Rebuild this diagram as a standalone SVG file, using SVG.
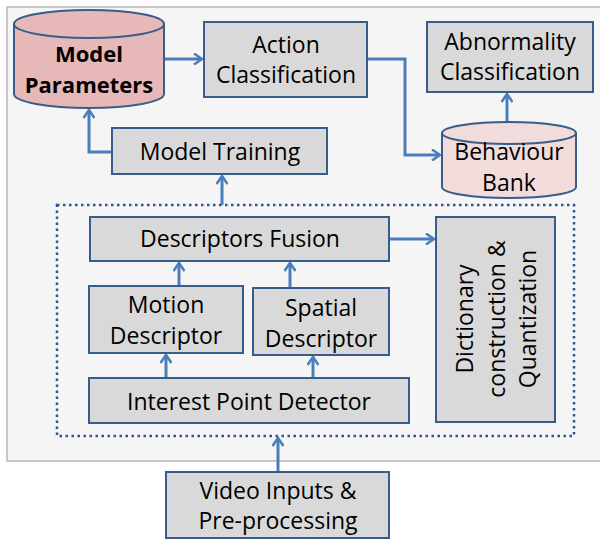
<svg xmlns="http://www.w3.org/2000/svg" width="600" height="540" viewBox="0 0 600 540">
<defs>
<marker id="ah" markerWidth="12" markerHeight="12" refX="9" refY="6" orient="auto" markerUnits="userSpaceOnUse">
<path d="M1,0.5 L9,6 L1,11.5" fill="none" stroke="#4a7ebb" stroke-width="2.5"/>
</marker>
<style>
.box{fill:#d9d9d9;stroke:#385d8a;stroke-width:2}
.t{font-family:"Open Sans","Liberation Sans",sans-serif;font-size:23px;fill:#000;text-anchor:middle}
.c{fill:none;stroke:#4a7ebb;stroke-width:3;marker-end:url(#ah)}
</style>
</defs>
<rect x="7" y="7" width="600" height="454" fill="#f5f5f5" stroke="#b8b8b8" stroke-width="1.5"/>
<g id="connectors">
<path class="c" d="M164,59 H202"/>
<path class="c" d="M112,152 H89 V110"/>
<path class="c" d="M222,205 V176"/>
<path class="c" d="M367,59 H405 V155 H440"/>
<path class="c" d="M507,122 V94"/>
<path class="c" d="M389,239 H434"/>
<path class="c" d="M179,286 V263"/>
<path class="c" d="M290,288 V263"/>
<path class="c" d="M166,378 V355"/>
<path class="c" d="M313,378 V357"/>
<path class="c" d="M278,472 V438"/>
</g>
<g id="model-parameters">
<path d="M14,24 V94 A75,14 0 0 0 164,94 V24" fill="#e6b8b7" stroke="#385d8a" stroke-width="2"/>
<ellipse cx="89" cy="24" rx="75" ry="14" fill="#e6b8b7" stroke="#385d8a" stroke-width="2"/>
<text class="t" x="89" y="62" style="font-size:22px;font-weight:bold">Model</text>
<text class="t" x="89" y="93" style="font-size:22px;font-weight:bold">Parameters</text>
</g>
<g id="action-classification">
<rect class="box" x="204" y="22" width="163" height="75"/>
<text class="t" x="286" y="53">Action</text>
<text class="t" x="286" y="83">Classification</text>
</g>
<g id="abnormality-classification">
<rect class="box" x="427" y="22" width="166" height="70"/>
<text class="t" x="510" y="50">Abnormality</text>
<text class="t" x="510" y="80">Classification</text>
</g>
<g id="behaviour-bank">
<path d="M442,133 V187 A67,11 0 0 0 576,187 V133" fill="#f2dcdb" stroke="#385d8a" stroke-width="2"/>
<ellipse cx="509" cy="133" rx="67" ry="11" fill="#f2dcdb" stroke="#385d8a" stroke-width="2"/>
<text class="t" x="509" y="160">Behaviour</text>
<text class="t" x="509" y="191">Bank</text>
</g>
<g id="model-training">
<rect class="box" x="112" y="128" width="215" height="46"/>
<text class="t" x="220" y="160">Model Training</text>
</g>
<g id="feature-group">
<rect x="57" y="205" width="517" height="231" fill="none" stroke="#2f5597" stroke-width="2.5" stroke-dasharray="2.5,3.5"/>
</g>
<g id="descriptors-fusion">
<rect class="box" x="90" y="217" width="299" height="44"/>
<text class="t" x="240" y="247">Descriptors Fusion</text>
</g>
<g id="dictionary">
<rect class="box" x="436" y="217" width="119" height="205"/>
<text class="t" transform="translate(473,319) rotate(-90)">Dictionary</text>
<text class="t" transform="translate(505,319) rotate(-90)">construction &amp;</text>
<text class="t" transform="translate(536,319) rotate(-90)">Quantization</text>
</g>
<g id="motion-descriptor">
<rect class="box" x="89" y="286" width="154" height="67"/>
<text class="t" x="166" y="313">Motion</text>
<text class="t" x="166" y="344">Descriptor</text>
</g>
<g id="spatial-descriptor">
<rect class="box" x="253" y="288" width="136" height="67"/>
<text class="t" x="321" y="316">Spatial</text>
<text class="t" x="321" y="347">Descriptor</text>
</g>
<g id="interest-point-detector">
<rect class="box" x="89" y="378" width="320" height="45"/>
<text class="t" x="249" y="410">Interest Point Detector</text>
</g>
<g id="video-inputs">
<rect class="box" x="166" y="472" width="223" height="66"/>
<text class="t" x="278" y="499">Video Inputs &amp;</text>
<text class="t" x="278" y="529">Pre-processing</text>
</g>
</svg>
